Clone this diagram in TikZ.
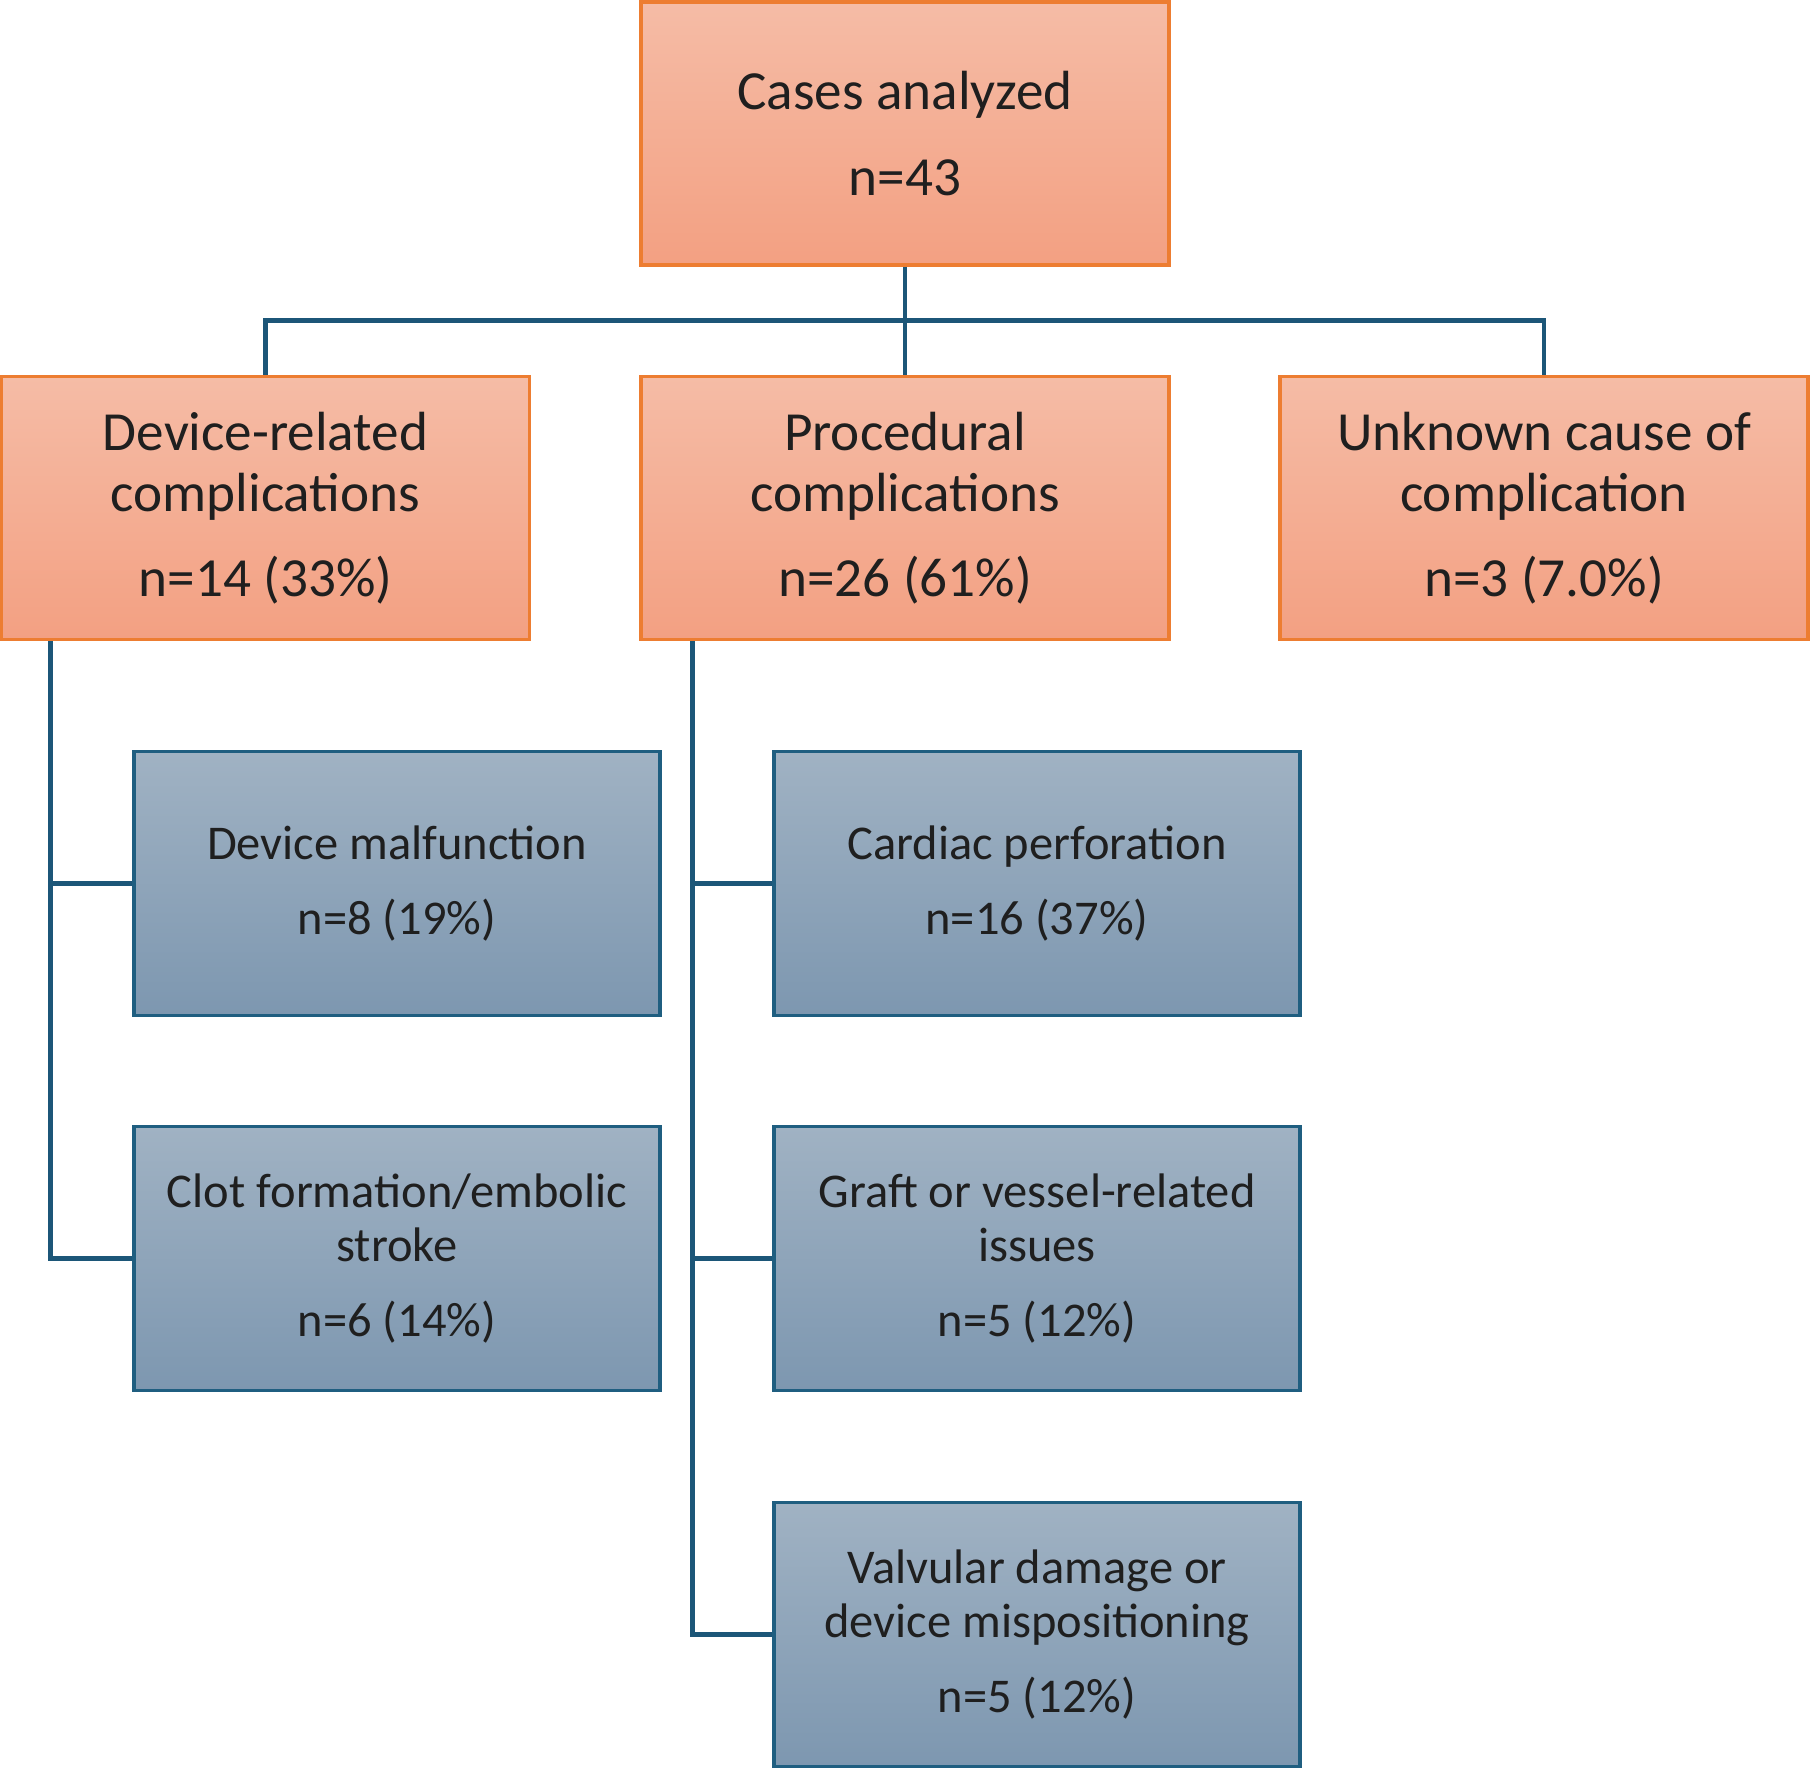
\documentclass[tikz,border=0pt]{standalone}
\usepackage{fontspec}
\setmainfont{Carlito}
\definecolor{salmontop}{RGB}{245,188,166}
\definecolor{salmonbot}{RGB}{243,160,130}
\definecolor{salmonline}{RGB}{237,125,49}
\definecolor{steeltop}{RGB}{160,178,195}
\definecolor{steelbot}{RGB}{125,151,176}
\definecolor{steelline}{RGB}{31,94,128}
\definecolor{linkblue}{RGB}{28,86,120}
\begin{document}
\begin{tikzpicture}[
    cause/.style={draw=salmonline, line width=1pt, top color=salmontop, bottom color=salmonbot,
        minimum width=5.28cm, minimum height=2.63cm, align=center, text=black!88,
        font=\fontsize{15.7}{17.4}\selectfont},
    sub/.style={draw=steelline, line width=1pt, top color=steeltop, bottom color=steelbot,
        minimum width=5.26cm, minimum height=2.64cm, align=center, text=black!88,
        font=\fontsize{13.8}{15.3}\selectfont},
    link/.style={draw=linkblue, line width=1.3pt}]
    \useasboundingbox (0,0) rectangle (18.10,-17.69);
    % top level
    \node[cause] (cases) at (9.05,-1.335) {Cases analyzed\\[6.8pt]n=43};
    % main groups
    \node[cause] (dev) at (2.655,-5.08) {Device-related\\complications\\[6.8pt]n=14 (33\%)};
    \node[cause] (proc) at (9.05,-5.08) {Procedural\\complications\\[6.8pt]n=26 (61\%)};
    \node[cause] (unk) at (15.44,-5.08) {Unknown cause of\\complication\\[6.8pt]n=3 (7.0\%)};
    % sub groups
    \node[sub] (malf) at (3.97,-8.835) {Device malfunction\\[6pt]n=8 (19\%)};
    \node[sub] (clot) at (3.97,-12.585) {Clot formation/embolic\\stroke\\[6pt]n=6 (14\%)};
    \node[sub] (perf) at (10.37,-8.835) {Cardiac perforation\\[6pt]n=16 (37\%)};
    \node[sub] (graft) at (10.37,-12.585) {Graft or vessel-related\\issues\\[6pt]n=5 (12\%)};
    \node[sub] (valv) at (10.37,-16.345) {Valvular damage or\\device mispositioning\\[6pt]n=5 (12\%)};
    % connectors
    \coordinate (bus) at (9.05,-3.205);
    \draw[link] (cases.south) -- (proc.north);
    \draw[link] (dev.north) |- (bus) -| (unk.north);
    \draw[link] ([xshift=0.51cm]dev.south west) |- (malf.west);
    \draw[link] ([xshift=0.51cm]dev.south west) |- (clot.west);
    \draw[link] ([xshift=0.53cm]proc.south west) |- (perf.west);
    \draw[link] ([xshift=0.53cm]proc.south west) |- (graft.west);
    \draw[link] ([xshift=0.53cm]proc.south west) |- (valv.west);
\end{tikzpicture}
\end{document}
